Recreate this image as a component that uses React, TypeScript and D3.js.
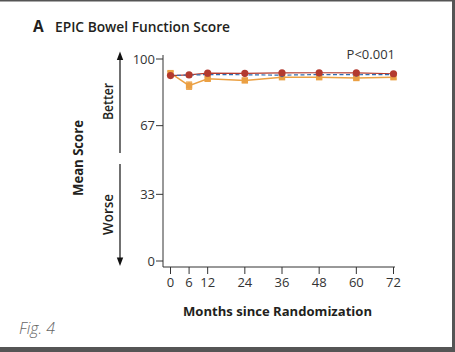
import React from 'react';
import * as d3 from 'd3';

const months = [0, 6, 12, 24, 36, 48, 60, 72];
const redValues = [91.8, 92.1, 93.0, 92.9, 93.1, 93.2, 93.1, 92.7];
const blueValues = [91.9, 92.0, 92.3, 92.2, 92.0, 92.3, 92.2, 92.3];
const orangeValues = [93.0, 86.8, 90.2, 89.4, 91.0, 91.0, 90.6, 91.0];
const orangeErr = [0.8, 1.8, 0.9, 0.9, 0.8, 0.8, 0.9, 0.9];
const yTicks = [0, 33, 67, 100];
const xTicks = [0, 6, 12, 24, 36, 48, 60, 72];

const W = 455;
const H = 352;
const FONT = "'Open Sans', 'Noto Sans', sans-serif";

const App = () => {
  // plot area
  const x = d3.scaleLinear().domain([0, 72]).range([170.5, 393.5]);
  const y = d3.scaleLinear().domain([0, 100]).range([261, 59]);
  const axisX = 163;
  const axisY = 267;

  const line = d3.line<number>()
    .x((_, i) => x(months[i]))
    .y(d => y(d));

  const red = '#b33a2f';
  const blue = '#2f6db0';
  const orange = '#eba043';

  return (
    <svg width={W} height={H} style={{ position: 'absolute', left: 0, top: 0, background: '#fff' }}
      fontFamily={FONT}>
      {/* frame */}
      <rect x={0} y={0} width={W} height={1.5} fill="#555" />
      <rect x={452} y={0} width={3} height={H} fill="#555" />
      <rect x={0} y={347} width={W} height={5} fill="#555" />

      {/* title */}
      <text x={33} y={32} fontSize={15.5} fontWeight={700} fill="#231f20">A</text>
      <text x={55} y={32} fontSize={14.5} fontWeight={600} fill="#231f20"
        textLength={175} lengthAdjust="spacingAndGlyphs">EPIC Bowel Function Score</text>

      {/* y axis */}
      <line x1={axisX} x2={axisX} y1={55} y2={axisY} stroke="#333" strokeWidth={1} />
      {yTicks.map(t => (
        <g key={t}>
          <line x1={axisX - 7} x2={axisX} y1={y(t)} y2={y(t)} stroke="#333" />
          <text x={axisX - 8} y={y(t) + 4.5} fontSize={13} textAnchor="end" fill="#333">{t}</text>
        </g>
      ))}

      {/* x axis */}
      <line x1={axisX} x2={395} y1={axisY} y2={axisY} stroke="#333" />
      {xTicks.map(t => (
        <g key={t}>
          <line x1={x(t)} x2={x(t)} y1={axisY} y2={axisY + 7} stroke="#333" />
          <text x={x(t)} y={287} fontSize={13} textAnchor="middle" fill="#333">{t}</text>
        </g>
      ))}
      <text x={277.5} y={316} fontSize={13} fontWeight={700} textAnchor="middle" fill="#231f20"
        textLength={189} lengthAdjust="spacingAndGlyphs">Months since Randomization</text>

      {/* y labels and arrows */}
      <text transform="translate(83,158) rotate(-90)" fontSize={13.5} fontWeight={700}
        textAnchor="middle" fill="#231f20" textLength={76} lengthAdjust="spacingAndGlyphs">Mean Score</text>
      <text transform="translate(112.5,101.5) rotate(-90)" fontSize={13.5} fontWeight={600}
        textAnchor="middle" fill="#231f20" textLength={37} lengthAdjust="spacingAndGlyphs">Better</text>
      <text transform="translate(112.5,214.5) rotate(-90)" fontSize={13.5} fontWeight={600}
        textAnchor="middle" fill="#231f20" textLength={41} lengthAdjust="spacingAndGlyphs">Worse</text>
      <line x1={120} x2={120} y1={58} y2={153} stroke="#111" strokeWidth={1.2} />
      <path d="M120,51.5 L116.8,60 L123.2,60 Z" fill="#111" />
      <line x1={120} x2={120} y1={164} y2={259} stroke="#111" strokeWidth={1.2} />
      <path d="M120,266 L116.8,257.5 L123.2,257.5 Z" fill="#111" />

      <text x={395} y={59} fontSize={13} textAnchor="end" fill="#333">P&lt;0.001</text>

      {/* orange series */}
      <path d={line(orangeValues) || ''} fill="none" stroke={orange} strokeWidth={1.5} />
      {orangeValues.map((v, i) => (
        <g key={'o' + i}>
          <line x1={x(months[i])} x2={x(months[i])} y1={y(v - orangeErr[i])} y2={y(v + orangeErr[i])}
            stroke={orange} strokeWidth={1.2} />
          <line x1={x(months[i]) - 3} x2={x(months[i]) + 3} y1={y(v - orangeErr[i])} y2={y(v - orangeErr[i])}
            stroke={orange} strokeWidth={1.2} />
          <line x1={x(months[i]) - 3} x2={x(months[i]) + 3} y1={y(v + orangeErr[i])} y2={y(v + orangeErr[i])}
            stroke={orange} strokeWidth={1.2} />
          <rect x={x(months[i]) - 3.2} y={y(v) - 3.2} width={6.4} height={6.4} fill={orange} />
        </g>
      ))}

      {/* blue series (under the red markers) */}
      {blueValues.map((v, i) => (
        <circle key={'b' + i} cx={x(months[i])} cy={y(v)} r={2} fill={blue} />
      ))}

      {/* red series */}
      <path d={line(redValues) || ''} fill="none" stroke={red} strokeWidth={1.2} />
      <path d={line(blueValues) || ''} fill="none" stroke={blue} strokeWidth={1.2} strokeDasharray="4,2.5" />
      {redValues.map((v, i) => (
        <circle key={'r' + i} cx={x(months[i])} cy={y(v)} r={3.6} fill={red} />
      ))}

      <text x={19} y={334} fontSize={16} fontStyle="italic" fontWeight={300} fill="#666">Fig. 4</text>
    </svg>
  );
};

export default App;
